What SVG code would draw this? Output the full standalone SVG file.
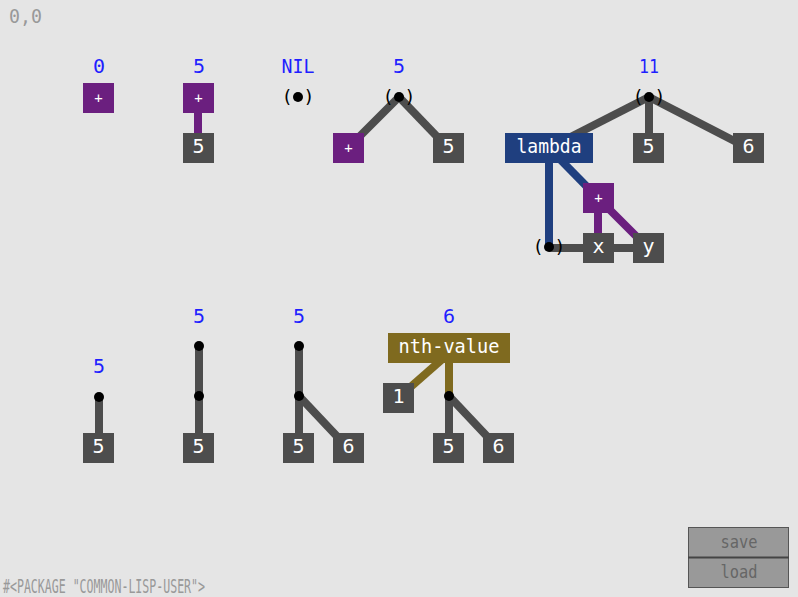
<svg xmlns="http://www.w3.org/2000/svg" width="798" height="597" viewBox="0 0 798 597">
<style>
.bg{fill:#e5e5e5}
.box{fill:#4d4d4d}
.plus{fill:#6b1f7f}
.lam{fill:#1f3f7f}
.nth{fill:#7f6a1f}
.bt{fill:#ffffff;font-family:"DejaVu Sans Mono",monospace;font-size:20px;text-anchor:middle}
.pt{fill:#ffffff;font-family:"DejaVu Sans Mono",monospace;font-size:14px;text-anchor:middle}
.val{fill:#1f1fff;font-family:"DejaVu Sans Mono",monospace;font-size:20px;text-anchor:middle}
.par{fill:#000;font-family:"DejaVu Sans Mono",monospace;font-size:18px;text-anchor:middle}
.g{stroke:#4d4d4d;stroke-width:8;fill:none}
.p{stroke:#6b1f7f;stroke-width:8;fill:none}
.b{stroke:#1f3f7f;stroke-width:8;fill:none}
.o{stroke:#7f6a1f;stroke-width:8;fill:none}
.dot{fill:#000}
.ui{fill:#999;font-family:"DejaVu Sans Mono",monospace;font-size:19px}
</style>
<rect class="bg" x="0" y="0" width="798" height="597"/>
<text class="ui" x="9" y="23" textLength="33" lengthAdjust="spacingAndGlyphs">0,0</text>

<g id="connectors">
<line class="p" x1="198" y1="110" x2="198" y2="140"/>
<line class="g" x1="399" y1="97" x2="348" y2="148"/>
<line class="g" x1="399" y1="97" x2="448" y2="148"/>
<line class="g" x1="649" y1="97" x2="549" y2="148"/>
<line class="g" x1="649" y1="97" x2="649" y2="148"/>
<line class="g" x1="649" y1="97" x2="748" y2="148"/>
<line class="b" x1="549" y1="150" x2="549" y2="247"/>
<line class="b" x1="549" y1="148" x2="598" y2="198"/>
<line class="g" x1="549" y1="248" x2="648" y2="248"/>
<line class="p" x1="598" y1="198" x2="598" y2="248"/>
<line class="p" x1="598" y1="198" x2="648" y2="248"/>
<line class="g" x1="99" y1="397" x2="99" y2="448"/>
<line class="g" x1="199" y1="346" x2="199" y2="448"/>
<line class="g" x1="299" y1="346" x2="299" y2="448"/>
<line class="g" x1="299" y1="396" x2="348" y2="448"/>
<line class="o" x1="455" y1="348" x2="398" y2="398"/>
<line class="o" x1="449" y1="348" x2="449" y2="396"/>
<line class="g" x1="449" y1="396" x2="449" y2="448"/>
<line class="g" x1="449" y1="396" x2="498" y2="448"/>
</g>

<g id="expr1">
<text class="val" x="99" y="73">0</text>
<rect class="plus" x="83" y="83" width="31" height="30"/>
<text class="pt" x="98.5" y="103">+</text>
</g>

<g id="expr2">
<text class="val" x="199" y="73">5</text>
<rect class="plus" x="183" y="83" width="31" height="30"/>
<text class="pt" x="198.5" y="103">+</text>
<rect class="box" x="183" y="133" width="31" height="30"/>
<text class="bt" x="198.5" y="153">5</text>
</g>

<g id="expr3">
<text class="val" x="298" y="73" textLength="33" lengthAdjust="spacingAndGlyphs">NIL</text>
<text class="par" x="298" y="103">( )</text>
<circle class="dot" cx="298" cy="97" r="5"/>
</g>

<g id="expr4">
<text class="val" x="399" y="73">5</text>
<text class="par" x="399" y="103">( )</text>
<circle class="dot" cx="399" cy="97" r="5"/>
<rect class="plus" x="333" y="133" width="31" height="30"/>
<text class="pt" x="348.5" y="153">+</text>
<rect class="box" x="433" y="133" width="31" height="30"/>
<text class="bt" x="448.5" y="153">5</text>
</g>

<g id="expr5">
<text class="val" x="649" y="73" textLength="20" lengthAdjust="spacingAndGlyphs">11</text>
<text class="par" x="649" y="103">( )</text>
<circle class="dot" cx="649" cy="97" r="5"/>
<rect class="lam" x="505" y="133" width="88" height="30"/>
<text class="bt" x="549" y="153" textLength="65" lengthAdjust="spacingAndGlyphs">lambda</text>
<rect class="box" x="633" y="133" width="31" height="30"/>
<text class="bt" x="648.5" y="153">5</text>
<rect class="box" x="733" y="133" width="31" height="30"/>
<text class="bt" x="748.5" y="153">6</text>
<rect class="plus" x="583" y="183" width="31" height="30"/>
<text class="pt" x="598.5" y="203">+</text>
<text class="par" x="549" y="253">( )</text>
<circle class="dot" cx="549" cy="247" r="5"/>
<rect class="box" x="583" y="233" width="31" height="30"/>
<text class="bt" x="598.5" y="253">x</text>
<rect class="box" x="633" y="233" width="31" height="30"/>
<text class="bt" x="648.5" y="253">y</text>
</g>

<g id="expr6">
<text class="val" x="99" y="373">5</text>
<circle class="dot" cx="99" cy="397" r="5"/>
<rect class="box" x="83" y="433" width="31" height="30"/>
<text class="bt" x="98.5" y="453">5</text>
</g>

<g id="expr7">
<text class="val" x="199" y="323">5</text>
<circle class="dot" cx="199" cy="346" r="5"/>
<circle class="dot" cx="199" cy="396" r="5"/>
<rect class="box" x="183" y="433" width="31" height="30"/>
<text class="bt" x="198.5" y="453">5</text>
</g>

<g id="expr8">
<text class="val" x="299" y="323">5</text>
<circle class="dot" cx="299" cy="346" r="5"/>
<circle class="dot" cx="299" cy="396" r="5"/>
<rect class="box" x="283" y="433" width="31" height="30"/>
<text class="bt" x="298.5" y="453">5</text>
<rect class="box" x="333" y="433" width="31" height="30"/>
<text class="bt" x="348.5" y="453">6</text>
</g>

<g id="expr9">
<text class="val" x="449" y="323">6</text>
<rect class="nth" x="388" y="333" width="122" height="30"/>
<text class="bt" x="449" y="353" textLength="101" lengthAdjust="spacingAndGlyphs">nth-value</text>
<rect class="box" x="383" y="383" width="31" height="30"/>
<text class="bt" x="398.5" y="403">1</text>
<circle class="dot" cx="449" cy="396" r="5"/>
<rect class="box" x="433" y="433" width="31" height="30"/>
<text class="bt" x="448.5" y="453">5</text>
<rect class="box" x="483" y="433" width="31" height="30"/>
<text class="bt" x="498.5" y="453">6</text>
</g>

<g id="buttons">
<rect x="688.5" y="527.5" width="100" height="30" fill="#999" stroke="#555" stroke-width="1"/>
<rect x="688.5" y="557.5" width="100" height="30" fill="#999" stroke="#555" stroke-width="1"/>
<line x1="688" y1="557.5" x2="789" y2="557.5" stroke="#444" stroke-width="2"/>
<text x="739" y="548" fill="#666" font-family="DejaVu Sans Mono,monospace" font-size="18" text-anchor="middle" textLength="37" lengthAdjust="spacingAndGlyphs">save</text>
<text x="739" y="578" fill="#666" font-family="DejaVu Sans Mono,monospace" font-size="18" text-anchor="middle" textLength="37" lengthAdjust="spacingAndGlyphs">load</text>
</g>
<text class="ui" x="3" y="593" font-size="18" textLength="202" lengthAdjust="spacingAndGlyphs">#&lt;PACKAGE "COMMON-LISP-USER"&gt;</text>
</svg>
